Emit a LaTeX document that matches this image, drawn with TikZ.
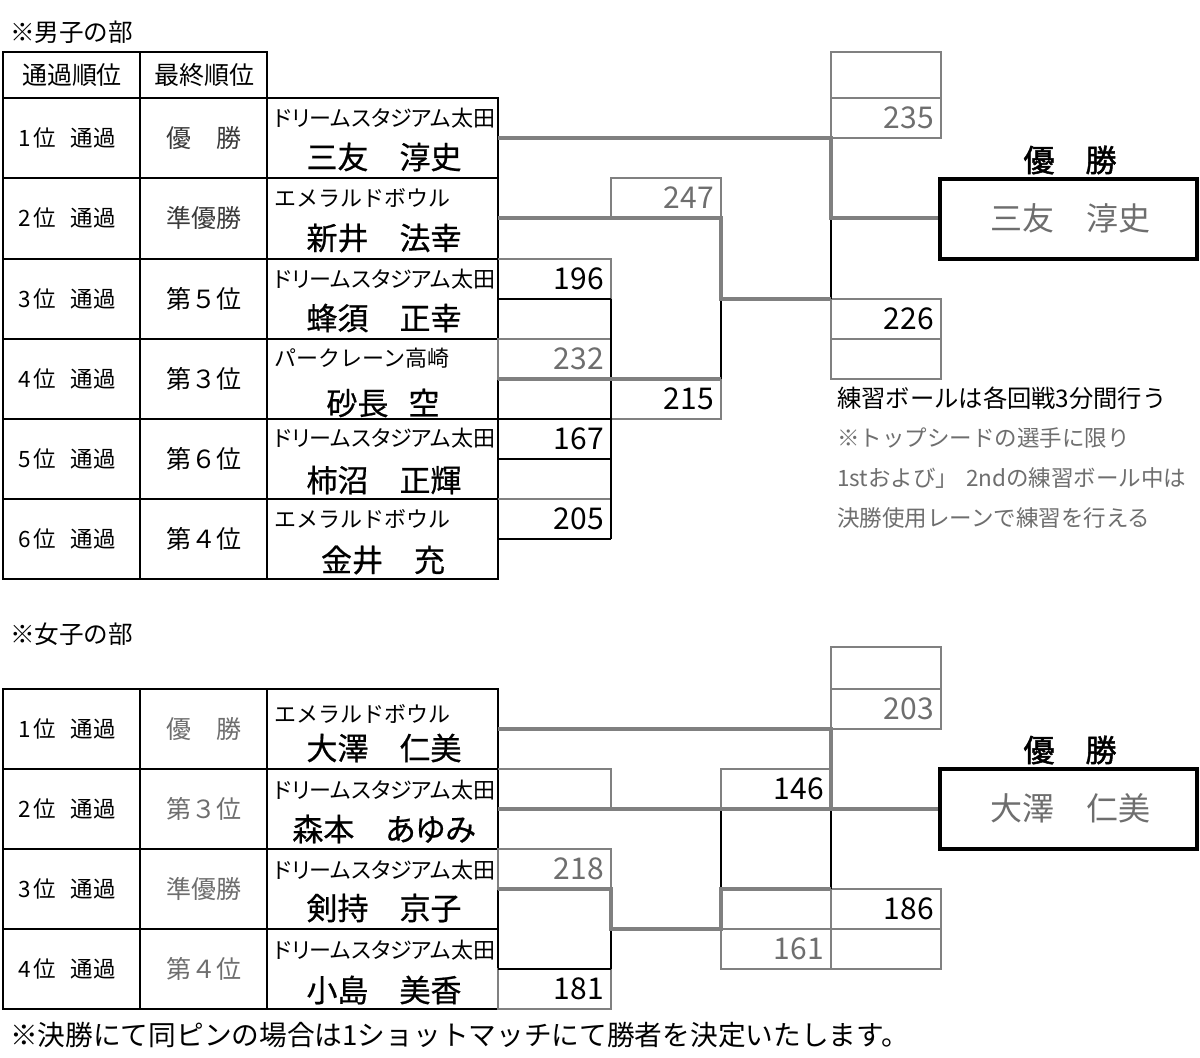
\documentclass[tikz,border=0pt]{standalone}
\usepackage{fontspec}
\newfontfamily\jp[RawFeature=+palt]{Noto Sans CJK JP}
\newfontfamily\jpm[RawFeature=+palt,FakeBold=0.6]{Noto Sans CJK JP}
\newfontfamily\jpb[RawFeature=+palt,FakeBold=1.6]{Noto Sans CJK JP}
\newfontfamily\jpn{Noto Sans CJK JP}
\definecolor{gl}{HTML}{808080}
\definecolor{gt}{HTML}{6E6E6E}
\definecolor{dg}{HTML}{3A3A3A}
\tikzset{
  tbl/.style={draw=black,line width=2.2pt},
  win/.style={draw=gl,line width=4pt},
  lose/.style={draw=black,line width=2pt},
  sbox/.style={draw=gl,line width=1.8pt},
  champ/.style={draw=black,line width=4.5pt},
  ttl/.style={anchor=west,inner sep=0pt,font=\jpn\fontsize{24.6}{25}\selectfont},
  hd/.style={inner sep=0pt,font=\jpn\fontsize{25}{25}\selectfont},
  rk/.style={inner sep=0pt,font=\jpn\fontsize{22.5}{23}\selectfont},
  club/.style={anchor=west,inner sep=0pt,font=\jpn\fontsize{22}{22}\selectfont},
  clubp/.style={anchor=west,inner sep=0pt,font=\jp\fontsize{22}{22}\selectfont},
  pname/.style={inner sep=0pt,font=\jpm\fontsize{31}{31}\selectfont},
  score/.style={anchor=east,inner sep=0pt,font=\jpn\fontsize{30}{30}\selectfont},
  clab/.style={inner sep=0pt,font=\jpb\fontsize{31}{31}\selectfont},
  cname/.style={inner sep=0pt,text=gt,font=\jp\fontsize{32}{32}\selectfont},
  note/.style={anchor=west,inner sep=0pt,font=\jpn\fontsize{24.3}{25}\selectfont},
  gnote/.style={anchor=west,inner sep=0pt,text=gt,font=\jpn\fontsize{22.5}{23}\selectfont},
}
\begin{document}
\begin{tikzpicture}[x=1pt,y=-1pt]
\useasboundingbox[fill=white] (0,0) rectangle (1200,1058);

%% ================= MEN =================
\node[ttl] (mtitle) at (10,32) {※男子の部};
% header
\draw[tbl] (3,52) rectangle (267,98);
\draw[tbl] (140,52) -- (140,98);
\node[hd] (mh1) at (72,75) {通過順位};
\node[hd] (mh2) at (204,75) {最終順位};
% body
\draw[tbl] (3,98) rectangle (498,579);
\foreach \yy in {178,259,339,419,499} \draw[tbl] (3,\yy) -- (498,\yy);
\draw[tbl] (140,98) -- (140,579);
\draw[tbl] (267,98) -- (267,579);

\node[rk] (m1a) at (67,138) {1\hspace{3pt}位\hspace{15pt}通過};
\node[rk] (m2a) at (67,218) {2\hspace{3pt}位\hspace{15pt}通過};
\node[rk] (m3a) at (67,299) {3\hspace{3pt}位\hspace{15pt}通過};
\node[rk] (m4a) at (67,379) {4\hspace{3pt}位\hspace{15pt}通過};
\node[rk] (m5a) at (67,459) {5\hspace{3pt}位\hspace{15pt}通過};
\node[rk] (m6a) at (67,539) {6\hspace{3pt}位\hspace{15pt}通過};

\node[hd,text=dg] (m1b) at (204,138) {優　勝};
\node[hd,text=dg] (m2b) at (204,218) {準優勝};
\node[hd] (m3b) at (204,299) {第５位};
\node[hd] (m4b) at (204,379) {第３位};
\node[hd] (m5b) at (204,459) {第６位};
\node[hd] (m6b) at (204,539) {第４位};

\node[clubp] (m1c) at (274,118) {ドリームスタジアム太田};
\node[club] (m2c) at (274,198) {エメラルドボウル};
\node[clubp] (m3c) at (274,279) {ドリームスタジアム太田};
\node[club] (m4c) at (274,358) {パークレーン高崎};
\node[clubp] (m5c) at (274,438) {ドリームスタジアム太田};
\node[club] (m6c) at (274,519) {エメラルドボウル};

\node[pname] (m1n) at (384,157) {三友　淳史};
\node[pname] (m2n) at (384,238) {新井　法幸};
\node[pname] (m3n) at (384,318) {蜂須　正幸};
\node[pname] (m4n) at (383,403) {砂長\hspace{20pt}空};
\node[pname] (m5n) at (384,480) {柿沼　正輝};
\node[pname] (m6n) at (383,560) {金井　充};

% score boxes (gray)
\draw[sbox] (831,52) rectangle (941,98);
\draw[sbox] (831,98) rectangle (941,138);
\draw[sbox] (611,178) rectangle (721,218);
\draw[sbox] (831,299) rectangle (941,339);
\draw[sbox] (831,339) rectangle (941,379);
\draw[sbox] (611,379) rectangle (721,419);
\draw[sbox] (498,259) -- (611,259) -- (611,299);
\draw[sbox] (498,339) rectangle (611,379);
\draw[sbox] (498,499) -- (611,499);
% black losing lines
\draw[lose] (498,299) -- (611,299);
\draw[lose] (611,299) -- (611,539);
\draw[lose] (498,419) -- (611,419);
\draw[lose] (498,459) -- (611,459);
\draw[lose] (498,539) -- (611,539);
\draw[lose] (721,299) -- (721,379);
\draw[lose] (831,218) -- (831,299);
% winning lines
\draw[win] (498,138) -- (831,138) -- (831,218) -- (940,218);
\draw[win] (498,218) -- (721,218) -- (721,299) -- (831,299);
\draw[win] (498,379) -- (721,379);

\node[score] (s196) at (604,279) {196};
\node[score,text=gt] (s232) at (604,359) {232};
\node[score] (s167) at (604,439) {167};
\node[score] (s205) at (604,519) {205};
\node[score,text=gt] (s247) at (714,198) {247};
\node[score] (s215) at (714,399) {215};
\node[score,text=gt] (s235) at (934,118) {235};
\node[score] (s226) at (934,319) {226};

% champion
\node[clab] (mclab) at (1070,160) {優　勝};
\draw[champ] (940,179) rectangle (1197,259);
\node[cname] (mcname) at (1070,218) {三友　淳史};

% notes
\node[note] (n1) at (837,398) {練習ボールは各回戦3分間行う};
\node[gnote] (n2) at (837,438) {※トップシードの選手に限り};
\node[gnote] (n3) at (837,478) {1stおよび」\hspace{8pt}2ndの練習ボール中は};
\node[gnote] (n4) at (837,518) {決勝使用レーンで練習を行える};

%% ================= WOMEN =================
\node[ttl] (wtitle) at (10,634) {※女子の部};
\draw[tbl] (3,689) rectangle (498,1009);
\foreach \yy in {769,849,929} \draw[tbl] (3,\yy) -- (498,\yy);
\draw[tbl] (140,689) -- (140,1009);
\draw[tbl] (267,689) -- (267,1009);

\node[rk] (w1a) at (67,729) {1\hspace{3pt}位\hspace{15pt}通過};
\node[rk] (w2a) at (67,809) {2\hspace{3pt}位\hspace{15pt}通過};
\node[rk] (w3a) at (67,889) {3\hspace{3pt}位\hspace{15pt}通過};
\node[rk] (w4a) at (67,969) {4\hspace{3pt}位\hspace{15pt}通過};

\node[hd,text=gt] (w1b) at (204,729) {優　勝};
\node[hd,text=gt] (w2b) at (204,809) {第３位};
\node[hd,text=gt] (w3b) at (204,889) {準優勝};
\node[hd,text=gt] (w4b) at (204,969) {第４位};

\node[club] (w1c) at (274,714) {エメラルドボウル};
\node[clubp] (w2c) at (274,790) {ドリームスタジアム太田};
\node[clubp] (w3c) at (274,870) {ドリームスタジアム太田};
\node[clubp] (w4c) at (274,950) {ドリームスタジアム太田};

\node[pname] (w1n) at (384,748) {大澤　仁美};
\node[pname] (w2n) at (384,829) {森本　あゆみ};
\node[pname] (w3n) at (384,908) {剣持　京子};
\node[pname] (w4n) at (384,990) {小島　美香};

% score boxes
\draw[sbox] (831,647) rectangle (941,689);
\draw[sbox] (831,689) rectangle (941,729);
\draw[sbox] (498,769) -- (611,769) -- (611,809);
\draw[sbox] (721,769) rectangle (831,809);
\draw[sbox] (498,849) rectangle (611,889);
\draw[sbox] (721,889) rectangle (831,929);
\draw[sbox] (831,889) rectangle (941,929);
\draw[sbox] (721,929) rectangle (831,969);
\draw[sbox] (831,929) rectangle (941,969);
\draw[sbox] (498,969) rectangle (611,1009);
% losing lines
\draw[lose] (721,809) -- (721,889);
\draw[lose] (831,809) -- (831,889);
\draw[lose] (611,929) -- (611,969);
\draw[lose] (498,969) -- (611,969);
% winning lines
\draw[win] (498,729) -- (831,729) -- (831,809) -- (940,809);
\draw[win] (498,809) -- (831,809);
\draw[win] (498,889) -- (611,889) -- (611,929) -- (721,929) -- (721,889) -- (831,889);

\node[score,text=gt] (s203) at (934,709) {203};
\node[score] (s146) at (824,789) {146};
\node[score,text=gt] (s218) at (604,869) {218};
\node[score] (s186) at (934,909) {186};
\node[score,text=gt] (s161) at (824,949) {161};
\node[score] (s181) at (604,989) {181};

% champion
\node[clab] (wclab) at (1070,750) {優　勝};
\draw[champ] (940,769) rectangle (1197,849);
\node[cname] (wcname) at (1070,808) {大澤　仁美};

% bottom note
\node[ttl,font=\jpn\fontsize{27.7}{28}\selectfont] (bnote) at (10,1035) {※決勝にて同ピンの場合は1ショットマッチにて勝者を決定いたします。};
\end{tikzpicture}
\end{document}
